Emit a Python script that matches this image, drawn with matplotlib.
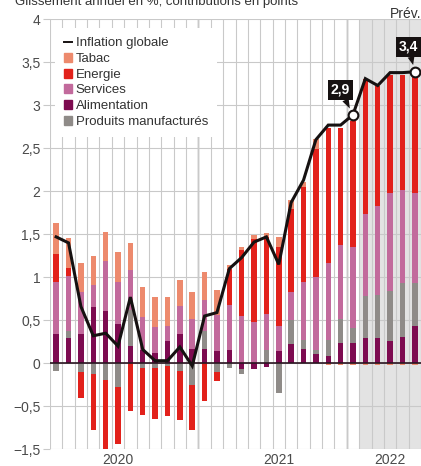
import matplotlib.pyplot as plt
import numpy as np
from matplotlib.patches import Patch
from matplotlib.lines import Line2D

plt.rcParams['font.family'] = ['Liberation Sans', 'DejaVu Sans']

# mois de janvier 2020 a juin 2022
mois = [f"{a}-{m:02d}" for a in (2020, 2021, 2022) for m in range(1, 13)][:30]

inflation = [1.47, 1.40, 0.66, 0.32, 0.35, 0.20, 0.77, 0.16, 0.03, 0.03, 0.19, -0.03,
             0.55, 0.59, 1.10, 1.23, 1.41, 1.47, 1.15, 1.87, 2.13, 2.60, 2.77, 2.77,
             2.89, 3.31, 3.23, 3.38, 3.38, 3.39]

alimentation = [0.34, 0.30, 0.34, 0.65, 0.61, 0.46, 0.20, 0.15, 0.12, 0.26, 0.34, 0.17,
                0.17, 0.14, 0.155, -0.066, -0.065, -0.045, 0.14, 0.22, 0.17, 0.11, 0.085, 0.24,
                0.24, 0.30, 0.29, 0.26, 0.31, 0.43]
manufactures = [-0.085, 0.07, -0.10, -0.12, -0.19, -0.27, 0.42, -0.06, -0.05, -0.03, -0.09, -0.25,
                0.21, -0.10, -0.05, -0.06, 0.0, 0.16, -0.35, 0.28, 0.10, 0.04, 0.185, 0.28,
                0.17, 0.48, 0.51, 0.58, 0.62, 0.50]
services = [0.60, 0.65, 0.49, 0.26, 0.58, 0.48, 0.46, 0.39, 0.30, 0.17, 0.33, 0.35,
            0.36, 0.42, 0.52, 0.55, 0.48, 0.41, 0.29, 0.33, 0.68, 0.85, 0.90, 0.85,
            0.94, 0.96, 1.03, 1.14, 1.09, 1.05]
energie = [0.33, 0.09, -0.30, -0.65, -0.81, -0.67, -0.55, -0.54, -0.60, -0.58, -0.57, -0.52,
           -0.44, -0.11, 0.42, 0.77, 0.97, 0.90, 0.92, 0.97, 1.10, 1.49, 1.57, 1.37,
           1.47, 1.57, 1.39, 1.37, 1.33, 1.40]
tabac = [0.36, 0.35, 0.34, 0.34, 0.34, 0.35, 0.32, 0.35, 0.35, 0.34, 0.30, 0.31,
         0.32, 0.29, 0.05, 0.03, 0.04, 0.04, 0.12, 0.10, 0.06, 0.12, -0.025, -0.02,
         -0.02, -0.02, -0.02, -0.02, -0.02, -0.02]

annees = ["2020", "2021", "2022"]
pos_annees = [5, 18, 27]
debut_prev = 25  # fevrier 2022

yticks = [4, 3.5, 3, 2.5, 2, 1.5, 1, 0.5, 0, -0.5, -1]
ylabels = ["4", "3,5", "3", "2,5", "2", "1,5", "1", "0,5", "0", "\u22120,5", "\u22121,5"]

c_tabac = "#ED8A6D"
c_energie = "#E2211B"
c_services = "#C26A9C"
c_alim = "#7D0B50"
c_manuf = "#8F8B88"
c_line = "#161111"
c_grid = "#c9c9c9"

fig = plt.figure(figsize=(4.21, 4.66), dpi=100)
ax = fig.add_axes([50/421, (466-449.3)/466, 371/421, 430/466])

x = np.arange(len(mois))
w = 0.44

series = [
    (alimentation, c_alim),
    (manufactures, c_manuf),
    (services, c_services),
    (energie, c_energie),
    (tabac, c_tabac),
]
haut = np.zeros(len(x))
bas = np.zeros(len(x))
for vals, col in series:
    v = np.array(vals)
    p = np.where(v > 0, v, 0)
    n = np.where(v < 0, v, 0)
    ax.bar(x, p, w, bottom=haut, color=col, zorder=2, linewidth=0)
    ax.bar(x, n, w, bottom=bas, color=col, zorder=2, linewidth=0)
    haut += p
    bas += n

ax.plot(x, inflation, color=c_line, lw=2.2, zorder=4, solid_joinstyle='miter')
for i in (24, 29):
    ax.plot(x[i], inflation[i], 'o', ms=7, mfc='white', mec=c_line, mew=1.5, zorder=5)

# zone de prevision
ax.axvspan(debut_prev - 0.5, len(x), color="#e3e3e3", zorder=0, lw=0)

ax.set_xlim(-0.5, 28.85)
ax.set_ylim(-1, 4)

ax.set_xticks(np.arange(-0.5, len(x)), minor=True)
ax.grid(which='minor', axis='x', color=c_grid, lw=0.8, zorder=1)
ax.set_yticks(yticks, ylabels)
ax.grid(which='major', axis='y', color=c_grid, lw=0.8, zorder=1)
for a in (12, 24):
    ax.axvline(a - 0.5, color="#555555", lw=0.9, zorder=1)
ax.axhline(0, color="#2a1420", lw=1.2, zorder=3)
ax.set_xticks(pos_annees, annees)
ax.tick_params(axis='x', which='both', length=0, labelsize=10, colors="#4a4a4a", pad=3)
ax.tick_params(axis='y', length=5, color=c_grid, labelsize=10, labelcolor="#4a4a4a", pad=2)
for s in ax.spines.values():
    s.set_visible(False)

for i, dx in ((24, -9), (29, -4.5)):
    ax.annotate(f"{inflation[i]:.1f}".replace(".", ","), xy=(x[i], inflation[i]),
                xytext=(dx, 18), textcoords='offset points', ha='center', va='center',
                color='white', fontsize=10, fontweight='bold', zorder=6,
                bbox=dict(boxstyle='square,pad=0.22', fc=c_line, ec='none'),
                arrowprops=dict(arrowstyle='wedge,tail_width=0.5', fc=c_line, ec='none',
                                shrinkA=0, shrinkB=5))

handles = [
    Line2D([], [], color=c_line, lw=1.4),
    Patch(color=c_tabac),
    Patch(color=c_energie),
    Patch(color=c_services),
    Patch(color=c_alim),
    Patch(color=c_manuf),
]
labels = ["Inflation globale", "Tabac", "Energie", "Services", "Alimentation",
          "Produits manufacturés"]
leg = ax.legend(handles, labels, loc='upper left', bbox_to_anchor=(0.0135, 0.980),
                borderaxespad=0, frameon=True, fancybox=False, framealpha=1,
                facecolor='white', edgecolor='none', fontsize=9.5, handlelength=0.55,
                handleheight=0.68, handletextpad=0.32, labelspacing=0.27, borderpad=0.7)
leg.set_zorder(7)
for t in leg.get_texts():
    t.set_color("#333333")

fig.text(15/421, 1 - 5/466, "Glissement annuel en %, contributions en points",
         fontsize=9.5, color="#333333", va='baseline')
fig.text(390/421, 1 - 17.5/466, "Prév.", fontsize=10, color="#333333", va='baseline')

fig.savefig("out.png", dpi=100)
